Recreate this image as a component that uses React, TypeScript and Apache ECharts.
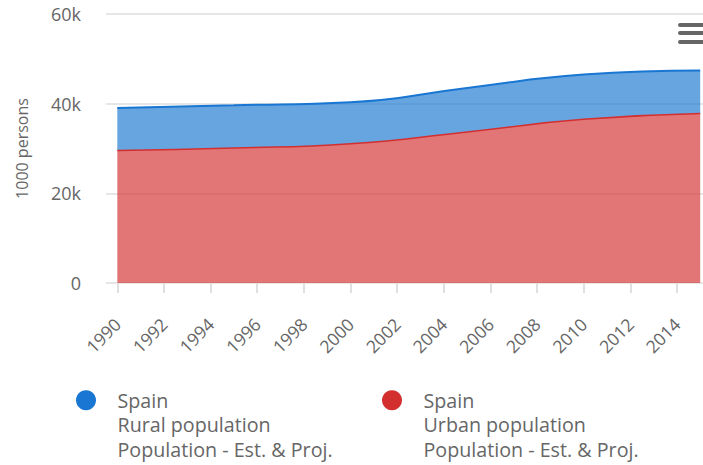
import React, { useEffect, useRef } from "react";
import * as echarts from "echarts";

const years = [1990, 1995, 2000, 2005, 2010, 2015];
const urbanPop = [29550, 30100, 31050, 33700, 36500, 37800];
const ruralPop = [9500, 9550, 9250, 9800, 10000, 9600];
const tickYears = [1990, 1992, 1994, 1996, 1998, 2000, 2002, 2004, 2006, 2008, 2010, 2012, 2014];
const ruralName = "Spain\nRural population\nPopulation - Est. & Proj.";
const urbanName = "Spain\nUrban population\nPopulation - Est. & Proj.";
const yAxisName = "1000 persons";

const FONT = "'Open Sans', 'Noto Sans', sans-serif";
const BLUE = "#1976d2";
const RED = "#d32f2f";

export default function App() {
  const ref = useRef<HTMLDivElement>(null);
  useEffect(() => {
    if (!ref.current) return;
    const chart = echarts.init(ref.current, undefined, { renderer: "svg" });
    const legendText = {
      color: "#666",
      fontSize: 19.7,
      fontFamily: FONT,
      lineHeight: 24.5,
      padding: [0, 0, 0, 16],
    };
    chart.setOption({
      animation: false,
      backgroundColor: "#fff",
      grid: { left: 106, right: 0, top: 14, bottom: 465 - 283, containLabel: false },
      xAxis: {
        type: "value",
        min: 1989.515,
        max: 2015.12,
        axisLine: { show: true, lineStyle: { color: "#e6e6e6", width: 1 } },
        axisTick: {
          show: true,
          length: 10,
          customValues: tickYears,
          lineStyle: { color: "#e0e0e0", width: 2 },
        },
        axisLabel: {
          customValues: tickYears,
          rotate: 45,
          margin: 38,
          color: "#666",
          fontSize: 17.5,
          fontFamily: FONT,
          formatter: (v: number) => String(v),
        },
        splitLine: { show: false },
      },
      yAxis: {
        type: "value",
        min: 0,
        max: 60000,
        interval: 20000,
        name: yAxisName,
        nameLocation: "middle",
        nameRotate: 90,
        nameGap: 76,
        nameTextStyle: { color: "#666", fontSize: 16, fontFamily: FONT },
        axisLine: { show: false },
        axisTick: { show: false },
        axisLabel: {
          margin: 25,
          color: "#666",
          fontSize: 18,
          fontFamily: FONT,
          formatter: (v: number) => (v === 0 ? "0" : v / 1000 + "k"),
        },
        splitLine: { show: true, lineStyle: { color: "#e6e6e6", width: 2 } },
      },
      legend: [
        {
          data: [ruralName],
          left: 76,
          top: 339,
          padding: 0,
          icon: "circle",
          itemWidth: 21,
          itemHeight: 20,
          formatter: (n: string) => "\n\n" + n,
          textStyle: legendText,
        },
        {
          data: [urbanName],
          left: 382,
          top: 339,
          padding: 0,
          icon: "circle",
          itemWidth: 21,
          itemHeight: 20,
          formatter: (n: string) => "\n\n" + n,
          textStyle: legendText,
        },
      ],
      series: [
        {
          name: urbanName,
          type: "line",
          stack: "pop",
          smooth: true,
          symbol: "none",
          color: RED,
          encode: { x: 1, y: 0 },
          lineStyle: { color: RED, width: 1.5 },
          areaStyle: { color: RED, opacity: 0.66 },
          data: years.map((y, i) => [urbanPop[i], y]),
        },
        {
          name: ruralName,
          type: "line",
          stack: "pop",
          smooth: true,
          symbol: "none",
          color: BLUE,
          encode: { x: 1, y: 0 },
          lineStyle: { color: BLUE, width: 2 },
          areaStyle: { color: BLUE, opacity: 0.66 },
          data: years.map((y, i) => [ruralPop[i], y]),
        },
      ],
      graphic: [
        { type: "rect", left: 678, top: 23, shape: { width: 30, height: 4, r: 2 }, style: { fill: "#666" } },
        { type: "rect", left: 678, top: 31, shape: { width: 30, height: 4, r: 2 }, style: { fill: "#666" } },
        { type: "rect", left: 678, top: 40, shape: { width: 30, height: 4, r: 2 }, style: { fill: "#666" } },
      ],
    });
    return () => chart.dispose();
  }, []);
  return (
    <div
      ref={ref}
      style={{ position: "fixed", left: 0, top: 0, width: 703, height: 465 }}
    />
  );
}
